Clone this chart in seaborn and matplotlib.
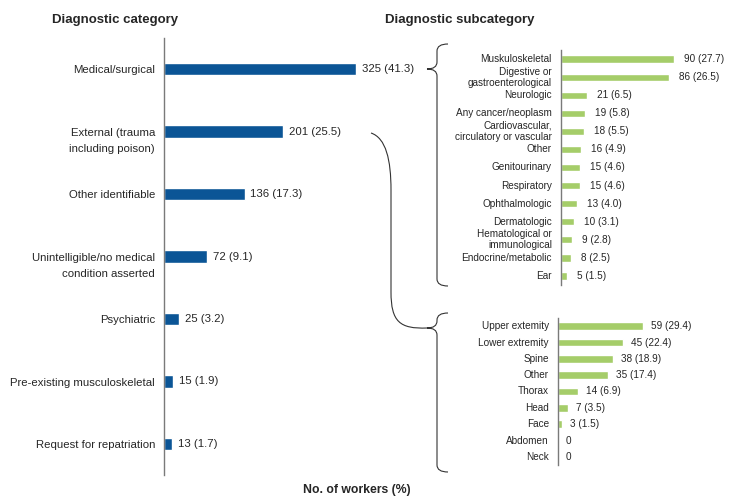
import numpy as np
import pandas as pd
import matplotlib
matplotlib.use("Agg")
import matplotlib.pyplot as plt
from matplotlib.path import Path
from matplotlib.patches import PathPatch
import seaborn as sns

# main categories
main_cats = ["Medical/surgical", "External (trauma\nincluding poison)", "Other identifiable",
             "Unintelligible/no medical\ncondition asserted", "Psychiatric",
             "Pre-existing musculoskeletal", "Request for repatriation"]
main_n = [325, 201, 136, 72, 25, 15, 13]
main_pct = [41.3, 25.5, 17.3, 9.1, 3.2, 1.9, 1.7]

# medical/surgical subcategories
med_cats = ["Muskuloskeletal", "Digestive or\ngastroenterological", "Neurologic", "Any cancer/neoplasm",
            "Cardiovascular,\ncirculatory or vascular", "Other", "Genitourinary", "Respiratory",
            "Ophthalmologic", "Dermatologic", "Hematological or\nimmunological",
            "Endocrine/metabolic", "Ear"]
med_n = [90, 86, 21, 19, 18, 16, 15, 15, 13, 10, 9, 8, 5]
med_pct = [27.7, 26.5, 6.5, 5.8, 5.5, 4.9, 4.6, 4.6, 4.0, 3.1, 2.8, 2.5, 1.5]

# external subcategories
ext_cats = ["Upper extemity", "Lower extremity", "Spine", "Other", "Thorax", "Head", "Face",
            "Abdomen", "Neck"]
ext_n = [59, 45, 38, 35, 14, 7, 3, 0, 0]
ext_pct = [29.4, 22.4, 18.9, 17.4, 6.9, 3.5, 1.5, None, None]

BLUE = "#0B5596"
GREEN = "#A5CD69"
TXT = "#262626"
W, H = 735, 501

sns.set_style("white")
plt.rcParams["font.family"] = ["Liberation Sans", "DejaVu Sans"]

fig = plt.figure(figsize=(W / 100, H / 100), dpi=100)


def px_axes(left, top, right, bottom):
    return fig.add_axes([left / W, 1 - bottom / H, (right - left) / W, (bottom - top) / H])


def fmt(n, p):
    return f"{n}" if p is None else f"{n} ({p:.1f})"


def panel(ax, cats, n, pct, color, width, xmax, fs, lab_pad, val_pad, first_line=False):
    df = pd.DataFrame({"cat": cats, "n": n})
    sns.barplot(data=df, x="n", y="cat", orient="h", color=color, width=width,
                saturation=1, ax=ax)
    ax.set_xlim(0, xmax)
    ax.set_xlabel("")
    ax.set_ylabel("")
    ax.set_xticks([])
    ax.set_yticks([])
    for s in ["top", "right", "bottom"]:
        ax.spines[s].set_visible(False)
    ax.spines["left"].set_color("#7a7a7a")
    ax.spines["left"].set_linewidth(1.0)
    for i, (c, v, p) in enumerate(zip(cats, n, pct)):
        if first_line:
            # first line of the label sits level with the bar
            for k, line in enumerate(c.split("\n")):
                ax.annotate(line, xy=(0, i), xycoords=("axes fraction", "data"),
                            xytext=(-lab_pad, -3 - 11.5 * k), textcoords="offset points",
                            ha="right", va="baseline", fontsize=fs, color=TXT)
        else:
            ax.annotate(c, xy=(0, i), xycoords=("axes fraction", "data"),
                        xytext=(-lab_pad, 0), textcoords="offset points",
                        ha="right", va="center", fontsize=fs, color=TXT,
                        linespacing=1.1)
        ax.annotate(fmt(v, p), xy=(v, i), xytext=(val_pad, 0), textcoords="offset points",
                    ha="left", va="center", fontsize=fs, color=TXT,
                    annotation_clip=False)


ax_main = px_axes(164, 38, 164 + 400 * 0.592, 475)
panel(ax_main, main_cats, main_n, main_pct, BLUE, 0.2, 400, 8.2, 6.5, 4.3, first_line=True)

ax_med = px_axes(561, 50, 561 + 130 * 1.256, 285)
panel(ax_med, med_cats, med_n, med_pct, GREEN, 0.4, 130, 7.2, 6.5, 7.2)

ax_ext = px_axes(558, 318, 558 + 120 * 1.44, 465)
panel(ax_ext, ext_cats, ext_n, ext_pct, GREEN, 0.45, 120, 7.2, 6.5, 5.8)

# titles
fig.text(115 / W, 1 - 22.7 / H, "Diagnostic category", ha="center", va="baseline",
         fontsize=9.5, fontweight="bold", color=TXT)
fig.text(385 / W, 1 - 22.7 / H, "Diagnostic subcategory", ha="left", va="baseline",
         fontsize=9.5, fontweight="bold", color=TXT)
fig.text(357 / W, 1 - 493 / H, "No. of workers (%)", ha="center", va="baseline",
         fontsize=8.8, fontweight="bold", color=TXT)

# overlay for braces and connector (pixel coordinates)
ov = fig.add_axes([0, 0, 1, 1], zorder=5)
ov.set_xlim(0, W)
ov.set_ylim(H, 0)
ov.axis("off")
ov.patch.set_alpha(0)


def brace(x, top, bottom, tip_y, tip_x, w=11, r=7):
    verts = [(x + w, top), (x, top), (x, top + r),
             (x, tip_y - r),
             (x, tip_y), (tip_x, tip_y),
             (x, tip_y), (x, tip_y + r),
             (x, bottom - r),
             (x, bottom), (x + w, bottom)]
    codes = [Path.MOVETO, Path.CURVE3, Path.CURVE3,
             Path.LINETO,
             Path.CURVE3, Path.CURVE3,
             Path.CURVE3, Path.CURVE3,
             Path.LINETO,
             Path.CURVE3, Path.CURVE3]
    ov.add_patch(PathPatch(Path(verts, codes), fill=False, lw=0.8, ec="#333333"))


brace(437, 44, 286, 69, 427)
brace(437, 313, 472, 328, 427)

conn = Path([(371, 133), (386, 138), (391, 160), (391, 190),
             (391, 292),
             (391, 322), (400, 329), (427, 328)],
            [Path.MOVETO, Path.CURVE4, Path.CURVE4, Path.CURVE4,
             Path.LINETO,
             Path.CURVE4, Path.CURVE4, Path.CURVE4])
ov.add_patch(PathPatch(conn, fill=False, lw=0.8, ec="#333333"))

fig.savefig("out.png", dpi=100)
